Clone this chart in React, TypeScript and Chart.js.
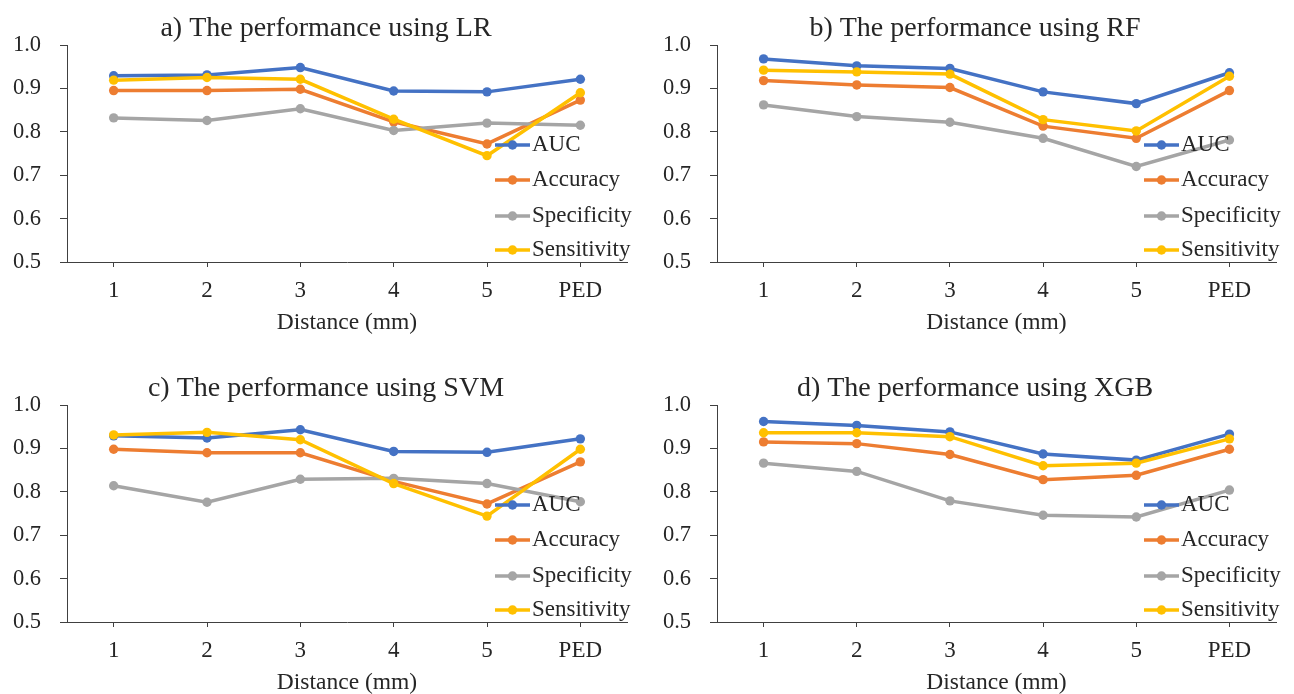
import React, { useEffect, useRef } from 'react';
import { Chart, registerables } from 'chart.js';

Chart.register(...registerables);

const categories = ['1', '2', '3', '4', '5', 'PED'];
const seriesNames = ['AUC', 'Accuracy', 'Specificity', 'Sensitivity'];
const seriesColors = ['#4472C4', '#ED7D31', '#A5A5A5', '#FFC000'];
const yTicks = [0.5, 0.6, 0.7, 0.8, 0.9, 1.0];

const lrAUC = [0.929, 0.931, 0.948, 0.894, 0.892, 0.921];
const lrAccuracy = [0.895, 0.895, 0.898, 0.823, 0.772, 0.873];
const lrSpecificity = [0.832, 0.826, 0.853, 0.803, 0.820, 0.815];
const lrSensitivity = [0.919, 0.925, 0.921, 0.829, 0.745, 0.890];

const rfAUC = [0.968, 0.952, 0.946, 0.892, 0.865, 0.936];
const rfAccuracy = [0.918, 0.908, 0.902, 0.813, 0.785, 0.895];
const rfSpecificity = [0.862, 0.835, 0.822, 0.785, 0.720, 0.781];
const rfSensitivity = [0.942, 0.938, 0.933, 0.828, 0.802, 0.928];

const svmAUC = [0.929, 0.924, 0.943, 0.893, 0.891, 0.922];
const svmAccuracy = [0.898, 0.890, 0.890, 0.824, 0.772, 0.869];
const svmSpecificity = [0.814, 0.776, 0.829, 0.831, 0.819, 0.777];
const svmSensitivity = [0.931, 0.937, 0.920, 0.819, 0.744, 0.898];

const xgbAUC = [0.962, 0.953, 0.938, 0.887, 0.873, 0.933];
const xgbAccuracy = [0.915, 0.911, 0.886, 0.828, 0.838, 0.898];
const xgbSpecificity = [0.866, 0.847, 0.779, 0.746, 0.742, 0.804];
const xgbSensitivity = [0.936, 0.936, 0.927, 0.860, 0.866, 0.922];

const panelTitles = [
  'a) The performance using LR',
  'b) The performance using RF',
  'c) The performance using SVM',
  'd) The performance using XGB',
];
const xAxisTitle = 'Distance (mm)';

const FONT = "'Liberation Serif', 'Times New Roman', serif";
const TEXT = '#262626';
const AXIS = '#404040';

const legendPlugin = {
  id: 'insideLegend',
  afterDatasetsDraw(chart: any) {
    const { ctx, chartArea } = chart;
    const offsets = [117, 82, 46, 12];
    ctx.save();
    chart.data.datasets.forEach((ds: any, i: number) => {
      const y = chartArea.bottom - offsets[i];
      const x0 = chartArea.right - 132;
      const x1 = chartArea.right - 97;
      ctx.strokeStyle = ds.borderColor;
      ctx.lineWidth = 3.5;
      ctx.beginPath();
      ctx.moveTo(x0, y);
      ctx.lineTo(x1, y);
      ctx.stroke();
      ctx.fillStyle = ds.borderColor;
      ctx.beginPath();
      ctx.arc((x0 + x1) / 2, y, 4.7, 0, Math.PI * 2);
      ctx.fill();
      ctx.fillStyle = TEXT;
      ctx.font = `23px ${FONT}`;
      ctx.textAlign = 'left';
      ctx.textBaseline = 'middle';
      ctx.fillText(ds.label, x1 + 2, y);
    });
    ctx.restore();
  },
};

const titlePlugin = {
  id: 'panelTitle',
  afterDraw(chart: any, _args: any, opts: any) {
    const { ctx, chartArea } = chart;
    ctx.save();
    ctx.fillStyle = TEXT;
    ctx.font = `28px ${FONT}`;
    ctx.textAlign = 'center';
    ctx.textBaseline = 'alphabetic';
    ctx.fillText(opts.text, opts.x, chartArea.top - 9);
    ctx.restore();
  },
};

function Panel({ title, series, top, titleX, rightPad }: any) {
  const ref = useRef<HTMLCanvasElement>(null);
  useEffect(() => {
    const plotTop = top ? 45 : 58;
    const xHeight = top ? 85 : 72;
    const yWidth = rightPad === 20 ? 67 : 70;
    const chart = new Chart(ref.current as HTMLCanvasElement, {
      type: 'line',
      data: {
        labels: categories,
        datasets: series.map((data: number[], i: number) => ({
          label: seriesNames[i],
          data,
          borderColor: seriesColors[i],
          backgroundColor: seriesColors[i],
          pointBackgroundColor: seriesColors[i],
          pointBorderColor: seriesColors[i],
          borderWidth: 3.5,
          pointRadius: 4.7,
          pointBorderWidth: 0,
          tension: 0,
          order: 4 - i,
        })),
      },
      options: {
        animation: false,
        responsive: false,
        events: [],
        layout: { padding: { top: plotTop, left: 0, right: rightPad, bottom: 0 } },
        plugins: {
          legend: { display: false },
          tooltip: { enabled: false },
          title: { display: false },
          panelTitle: { text: title, x: titleX },
        } as any,
        scales: {
          x: {
            type: 'category',
            offset: true,
            afterFit: (s: any) => { s.height = xHeight; },
            grid: { display: true, drawOnChartArea: false, offset: false, tickLength: 5, color: AXIS, lineWidth: 1 },
            border: { display: true, color: AXIS, width: 1 },
            ticks: { color: TEXT, font: { family: FONT, size: 23 }, padding: 10, maxRotation: 0, autoSkip: false },
            title: {
              display: true,
              text: xAxisTitle,
              color: TEXT,
              font: { family: FONT, size: 23.5 },
              padding: { top: 0, bottom: top ? 10 : -3 },
            },
          },
          y: {
            type: 'linear',
            min: yTicks[0],
            max: yTicks[yTicks.length - 1],
            afterFit: (s: any) => { s.width = yWidth; },
            afterBuildTicks: (s: any) => { s.ticks = yTicks.map((v) => ({ value: v })); },
            grid: { display: true, drawOnChartArea: false, tickLength: 7, color: AXIS, lineWidth: 1 },
            border: { display: true, color: AXIS, width: 1 },
            ticks: {
              color: TEXT,
              font: { family: FONT, size: 22.5 },
              padding: 19,
              callback: (v: any) => Number(v).toFixed(1),
            },
          },
        },
      },
      plugins: [legendPlugin, titlePlugin],
    });
    return () => chart.destroy();
  }, []);
  return <canvas ref={ref} width={647} height={347} style={{ display: 'block', width: 647, height: 347 }} />;
}

export default function App() {
  const all = [
    [lrAUC, lrAccuracy, lrSpecificity, lrSensitivity],
    [rfAUC, rfAccuracy, rfSpecificity, rfSensitivity],
    [svmAUC, svmAccuracy, svmSpecificity, svmSensitivity],
    [xgbAUC, xgbAccuracy, xgbSpecificity, xgbSensitivity],
  ];
  return (
    <div
      style={{
        position: 'absolute',
        left: 0,
        top: 0,
        width: 1294,
        height: 694,
        background: '#fff',
        display: 'grid',
        gridTemplateColumns: '647px 647px',
        gridTemplateRows: '347px 347px',
      }}
    >
      {all.map((s, i) => (
        <Panel
          key={i}
          title={panelTitles[i]}
          series={s}
          top={i < 2}
          titleX={i % 2 === 0 ? 326 : 328}
          rightPad={i % 2 === 0 ? 20 : 18}
        />
      ))}
    </div>
  );
}
